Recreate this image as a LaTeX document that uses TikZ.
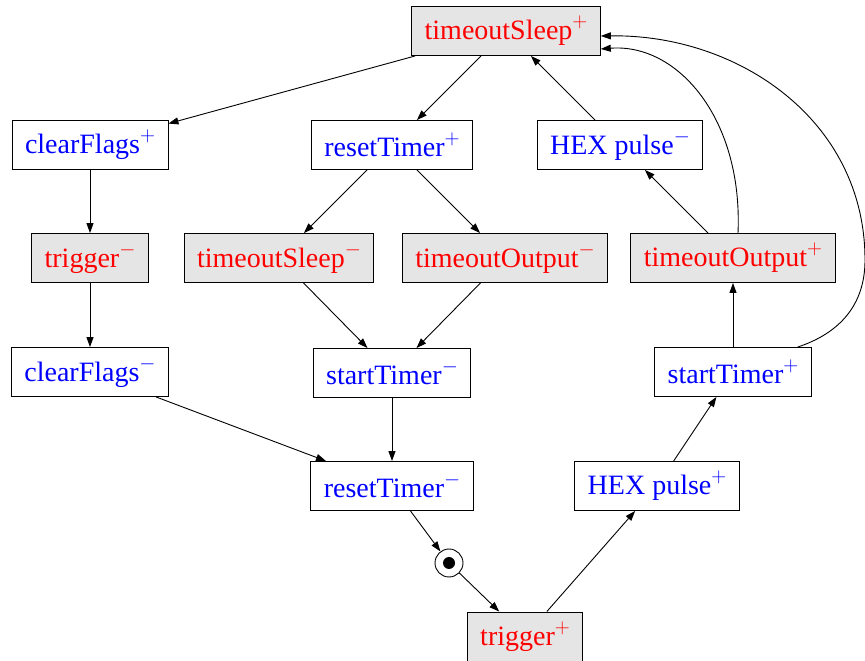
\documentclass[tikz,border=0pt]{standalone}
\usepackage{fontspec}
\setmainfont{Liberation Serif}
\usetikzlibrary{arrows.meta}
\newcommand{\sgnmark}[1]{\raisebox{12pt}{\fontsize{22}{22}\selectfont$#1$}}
\begin{document}
\begin{tikzpicture}[x=1pt,y=1pt,
  tbox/.style={draw, line width=0.9pt, font=\fontsize{28}{30}\selectfont, inner xsep=13pt, inner ysep=0pt, minimum height=49pt, anchor=center},
  bbox/.style={tbox, text=blue, fill=white},
  rbox/.style={tbox, text=red, fill=gray!20},
  arr/.style={line width=0.9pt, -{Triangle[length=10pt,width=7pt]}},
  tokring/.style={circle, draw, line width=0.9pt, minimum size=28pt, inner sep=0pt},
  tokdot/.style={circle, fill=black, minimum size=12pt, inner sep=0pt}]
\useasboundingbox (0,0) rectangle (865,661);
\node[rbox] (tsP) at (506,630) {timeoutSleep\sgnmark{+}};
\node[bbox] (cfP) at (90,516) {clearFlags\sgnmark{+}};
\node[bbox] (rtP) at (392,516) {resetTimer\sgnmark{+}};
\node[bbox] (hexM) at (620,516) {HEX pulse\sgnmark{-}};
\node[rbox] (trM) at (90,403) {trigger\sgnmark{-}};
\node[rbox] (tsM) at (279,403) {timeoutSleep\sgnmark{-}};
\node[rbox] (toM) at (505,403) {timeoutOutput\sgnmark{-}};
\node[rbox] (toP) at (733,403) {timeoutOutput\sgnmark{+}};
\node[bbox] (cfM) at (90,289) {clearFlags\sgnmark{-}};
\node[bbox] (stM) at (392,288) {startTimer\sgnmark{-}};
\node[bbox] (stP) at (733,289) {startTimer\sgnmark{+}};
\node[bbox] (rtM) at (392,175) {resetTimer\sgnmark{-}};
\node[bbox] (hexP) at (657,175) {HEX pulse\sgnmark{+}};
\node[tokring] (tok) at (449,98) {};
\node[tokdot] (tokd) at (tok.center) {};
\node[rbox] (trP) at (525,24.5) {trigger\sgnmark{+}};

\draw[arr] (tsP) -- (cfP);
\draw[arr] (tsP) -- (rtP);
\draw[arr] (hexM) -- (tsP);
\draw[arr] (toP) -- (hexM);
\draw[arr] (cfP) -- (trM);
\draw[arr] (trM) -- (cfM);
\draw[arr] (rtP) -- (tsM);
\draw[arr] (rtP) -- (toM);
\draw[arr] (tsM) -- (stM);
\draw[arr] (toM) -- (stM);
\draw[arr] (stM) -- (rtM);
\draw[arr] (cfM) -- (rtM);
\draw[arr] (rtM) -- (tok);
\draw[arr] (tok) -- (trP);
\draw[arr] (trP) -- (hexP);
\draw[arr] (hexP) -- (stP);
\draw[arr] (stP) -- (toP);
\draw[arr] ([xshift=5pt]toP.north) .. controls +(5,114) and +(77,6) .. ([yshift=-18pt]tsP.east);
\coordinate (far) at (865,401);
\draw[line width=0.9pt] ([xshift=-14pt]stP.north east) .. controls +(42,14) and +(0,-45) .. (far);
\draw[arr] (far) .. controls +(0,140) and +(137,2) .. ([yshift=-5pt]tsP.east);
\end{tikzpicture}
\end{document}
